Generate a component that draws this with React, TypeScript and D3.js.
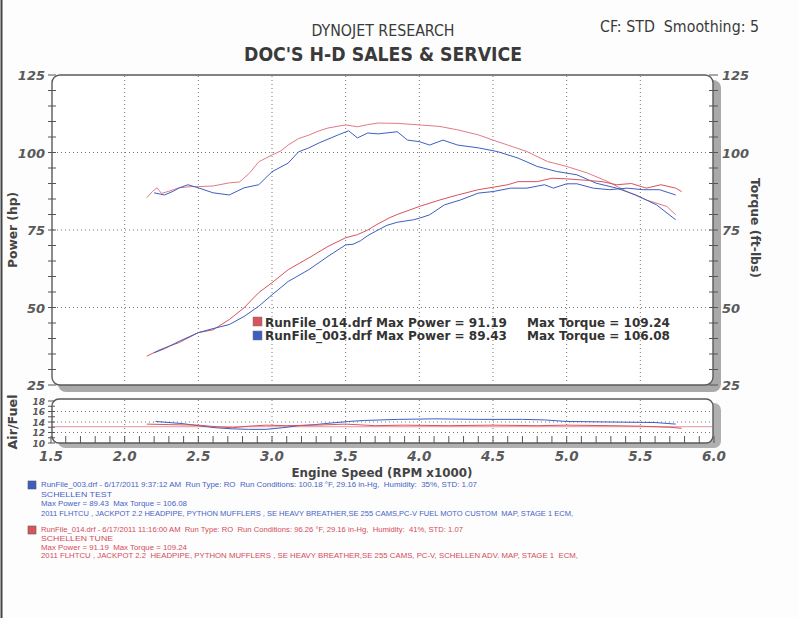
import React from "react";
import * as d3 from "d3";

// ---- data ----
const rpmTicks = [1.5, 2.0, 2.5, 3.0, 3.5, 4.0, 4.5, 5.0, 5.5, 6.0];
const mainTicks = [25, 50, 75, 100, 125];
const afrTicks = [10, 12, 14, 16, 18];

const tqRedRpm = [2.15, 2.19, 2.22, 2.25, 2.3, 2.37, 2.45, 2.5, 2.6, 2.71, 2.78, 2.85, 2.91, 3.0, 3.06, 3.11, 3.18, 3.25, 3.32, 3.38, 3.5, 3.58, 3.65, 3.72, 3.85, 4.0, 4.14, 4.26, 4.4, 4.5, 4.6, 4.73, 4.87, 5.0, 5.14, 5.28, 5.41, 5.54, 5.68, 5.74];
const tqRed = [85.4, 87.5, 88.6, 86.8, 87.5, 88.6, 89.0, 89.0, 89.2, 90.2, 90.5, 93.5, 97.0, 99.2, 100.5, 102.4, 104.5, 105.6, 107.0, 107.9, 108.9, 108.3, 109.0, 109.5, 109.4, 108.9, 108.4, 107.3, 105.7, 104.0, 102.4, 100.3, 97.1, 95.5, 93.4, 90.6, 87.4, 84.7, 82.6, 79.9];

const tqBlueRpm = [2.2, 2.27, 2.33, 2.37, 2.43, 2.5, 2.6, 2.71, 2.81, 2.91, 3.0, 3.11, 3.18, 3.25, 3.32, 3.45, 3.52, 3.58, 3.65, 3.72, 3.85, 3.92, 4.0, 4.07, 4.16, 4.26, 4.4, 4.53, 4.67, 4.8, 4.93, 5.07, 5.2, 5.34, 5.47, 5.61, 5.74];
const tqBlue = [87.0, 86.3, 87.5, 88.6, 89.6, 88.6, 87.0, 86.3, 88.6, 89.6, 93.8, 96.6, 100.2, 101.5, 103.1, 105.7, 107.0, 104.7, 106.3, 106.0, 106.7, 104.0, 103.5, 102.4, 104.0, 102.4, 101.5, 100.3, 98.2, 95.5, 93.9, 92.8, 90.1, 88.5, 86.3, 83.1, 78.3];

const hpRedRpm = [2.15, 2.24, 2.3, 2.37, 2.5, 2.6, 2.71, 2.81, 2.91, 3.0, 3.11, 3.25, 3.38, 3.5, 3.58, 3.65, 3.72, 3.8, 3.85, 4.0, 4.14, 4.26, 4.4, 4.5, 4.6, 4.67, 4.8, 4.9, 5.0, 5.14, 5.24, 5.34, 5.44, 5.54, 5.64, 5.74, 5.78];
const hpRed = [34.3, 36.4, 37.5, 38.7, 41.9, 42.8, 46.1, 49.9, 54.8, 58.0, 62.2, 66.0, 69.7, 72.5, 73.5, 75.0, 77.0, 79.0, 80.0, 82.6, 84.7, 86.3, 88.0, 88.8, 89.6, 90.6, 90.6, 91.7, 91.5, 91.0, 90.6, 89.6, 90.0, 88.5, 89.6, 88.5, 87.4];

const hpBlueRpm = [2.2, 2.27, 2.37, 2.5, 2.6, 2.71, 2.81, 2.91, 3.0, 3.11, 3.25, 3.38, 3.5, 3.55, 3.6, 3.65, 3.7, 3.78, 3.85, 3.96, 4.0, 4.07, 4.17, 4.28, 4.4, 4.5, 4.62, 4.73, 4.85, 4.91, 5.0, 5.07, 5.18, 5.29, 5.41, 5.52, 5.63, 5.74];
const hpBlue = [35.4, 36.7, 39.1, 41.9, 43.2, 44.5, 47.1, 50.4, 54.1, 58.4, 62.2, 66.5, 70.2, 70.4, 71.5, 73.2, 74.5, 76.5, 77.5, 78.3, 78.8, 79.9, 83.1, 84.7, 86.9, 87.4, 88.5, 88.5, 89.6, 88.5, 89.9, 89.9, 88.5, 88.0, 88.5, 88.0, 88.0, 86.3];

const afrBlueRpm = [2.21, 2.39, 2.5, 2.62, 2.73, 2.84, 2.96, 3.07, 3.18, 3.29, 3.4, 3.52, 3.63, 3.86, 4.1, 4.4, 4.7, 4.85, 5.0, 5.3, 5.6, 5.74];
const afrBlue = [14.1, 13.7, 13.3, 12.9, 12.7, 12.6, 12.6, 12.9, 13.3, 13.5, 13.8, 14.1, 14.3, 14.5, 14.6, 14.5, 14.5, 14.4, 14.1, 14.0, 13.9, 13.6];

const afrRedRpm = [2.15, 2.3, 2.5, 2.62, 2.73, 2.84, 2.96, 3.1, 3.3, 3.5, 3.7, 3.9, 4.2, 4.5, 4.8, 5.0, 5.3, 5.5, 5.7, 5.78];
const afrRed = [13.6, 13.5, 13.4, 13.1, 12.9, 13.2, 13.4, 13.3, 13.4, 13.6, 13.3, 13.4, 13.3, 13.4, 13.3, 13.4, 13.3, 13.2, 13.0, 12.8];
const afrTarget = 13.1;

const legendRows = [
  { file: "RunFile_014.drf", power: "91.19", torque: "109.24", color: "#d9535c" },
  { file: "RunFile_003.drf", power: "89.43", torque: "106.08", color: "#3d5fc0" },
];

const infoBlue = [
  "RunFile_003.drf - 6/17/2011 9:37:12 AM  Run Type: RO  Run Conditions: 100.18 °F, 29.16 in-Hg,  Humidity:  35%, STD: 1.07",
  "SCHELLEN TEST",
  "Max Power = 89.43  Max Torque = 106.08",
  "2011 FLHTCU , JACKPOT 2.2 HEADPIPE, PYTHON MUFFLERS , SE HEAVY BREATHER,SE 255 CAMS,PC-V FUEL MOTO CUSTOM  MAP, STAGE 1 ECM,",
];
const infoBlueW = [436, 71, 146, 532];
const infoRed = [
  "RunFile_014.drf - 6/17/2011 11:16:00 AM  Run Type: RO  Run Conditions: 96.26 °F, 29.16 in-Hg,  Humidity:  41%, STD: 1.07",
  "SCHELLEN TUNE",
  "Max Power = 91.19  Max Torque = 109.24",
  "2011 FLHTCU , JACKPOT 2.2  HEADPIPE, PYTHON MUFFLERS , SE HEAVY BREATHER,SE 255 CAMS, PC-V, SCHELLEN ADV. MAP, STAGE 1  ECM,",
];
const infoRedW = [422, 72, 146, 537];

export default function App() {
  const W = 798, H = 618;
  const L = 52, R = 713;
  const x = d3.scaleLinear().domain([1.5, 6.0]).range([51, 714]);
  const y = d3.scaleLinear().domain([25, 125]).range([385, 75]);
  const ya = d3.scaleLinear().domain([10, 18]).range([443, 401]);

  const mkLine = (sc: any) =>
    d3.line<[number, number]>().x((d) => x(d[0])).y((d) => sc(d[1]));
  const zip = (a: number[], b: number[]) => a.map((v, i) => [v, b[i]] as [number, number]);
  const lm = mkLine(y);
  const la = mkLine(ya);

  const red = "#d9535c";
  const redLight = "#e07a86";
  const blue = "#3d5fc0";
  const axisTxt = "#5a5a5a";
  const tickFont = { fontFamily: "DejaVu Sans", fontWeight: 700, fontStyle: "italic", fontSize: 13, fill: axisTxt } as any;
  const pre = { whiteSpace: "pre" } as any;

  const minor = d3.range(25, 126, 5);
  const minorX = d3.range(15, 61, 1).map((v) => v / 10);
  const afrMinor = d3.range(10, 18.01, 1);

  return (
    <svg width={W} height={H} style={{ position: "absolute", left: 0, top: 0, background: "#fff" }}>
      <rect x={0} y={0} width={W} height={H} fill="#fdfdfd" />
      <line x1={1.5} y1={0} x2={1.5} y2={H} stroke="#444" strokeWidth={2} />

      {/* titles */}
      <text x={383} y={36} textAnchor="middle" fontFamily="DejaVu Sans Condensed, DejaVu Sans" fontSize={15} fill="#3a3a3a" textLength={143} lengthAdjust="spacingAndGlyphs">DYNOJET RESEARCH</text>
      <text x={383} y={61} textAnchor="middle" fontFamily="DejaVu Sans Condensed, DejaVu Sans" fontWeight={700} fontSize={20} fill="#3a3a3a" textLength={278} lengthAdjust="spacingAndGlyphs">DOC'S H-D SALES &amp; SERVICE</text>
      <text x={600} y={32} style={pre} fontFamily="DejaVu Sans Condensed, DejaVu Sans" fontSize={15} fill="#3a3a3a" textLength={159} lengthAdjust="spacingAndGlyphs">CF: STD  Smoothing: 5</text>

      {/* main panel shadow */}
      <rect x={L + 6} y={80} width={R - L + 2} height={312} rx={8} fill="#a9a9a9" />
      <rect x={L} y={75} width={R - L} height={310} rx={8} fill="#fff" stroke="#5a5a5a" strokeWidth={1.4} />

      {/* afr panel shadow */}
      <rect x={L + 6} y={403} width={R - L + 2} height={45} rx={7} fill="#b0b0b0" />
      <rect x={L} y={399} width={R - L} height={44} rx={7} fill="#fff" stroke="#5a5a5a" strokeWidth={1.4} />

      {/* vertical grid */}
      {rpmTicks.slice(1, -1).map((t) => (
        <g key={"vg" + t}>
          <line x1={x(t)} x2={x(t)} y1={76} y2={384} stroke="#777" strokeDasharray="1,3" />
          <line x1={x(t)} x2={x(t)} y1={400} y2={442} stroke="#777" strokeDasharray="1,3" />
        </g>
      ))}
      {/* horizontal grid */}
      {mainTicks.slice(1, -1).map((t) => (
        <line key={"hg" + t} x1={L + 1} x2={R - 1} y1={y(t)} y2={y(t)} stroke="#777" strokeDasharray="1,3" />
      ))}
      {[12, 14, 16].map((t) => (
        <line key={"ag" + t} x1={L + 1} x2={R - 1} y1={ya(t)} y2={ya(t)} stroke="#777" strokeDasharray="1,3" />
      ))}

      {/* minor ticks main */}
      {minor.map((t) => (
        <g key={"mt" + t}>
          <line x1={L - 4} x2={L + 4} y1={y(t)} y2={y(t)} stroke="#555" />
          <line x1={R - 4} x2={R + 5} y1={y(t)} y2={y(t)} stroke="#555" />
        </g>
      ))}
      {afrMinor.map((t) => (
        <line key={"at" + t} x1={L - 4} x2={L + 3} y1={ya(t)} y2={ya(t)} stroke="#555" />
      ))}
      {minorX.map((t) => (
        <line key={"xt" + t} x1={x(t)} x2={x(t)} y1={443} y2={436} stroke="#555" />
      ))}

      {/* afr lines */}
      <line x1={L + 1} x2={R - 1} y1={ya(afrTarget)} y2={ya(afrTarget)} stroke={redLight} strokeWidth={1} opacity={0.8} />
      <path d={la(zip(afrBlueRpm, afrBlue)) || ""} fill="none" stroke={blue} strokeWidth={1} />
      <path d={la(zip(afrRedRpm, afrRed)) || ""} fill="none" stroke={red} strokeWidth={1} />

      {/* main curves */}
      <path d={lm(zip(tqRedRpm, tqRed)) || ""} fill="none" stroke={redLight} strokeWidth={1} />
      <path d={lm(zip(tqBlueRpm, tqBlue)) || ""} fill="none" stroke={blue} strokeWidth={1} />
      <path d={lm(zip(hpRedRpm, hpRed)) || ""} fill="none" stroke={red} strokeWidth={1} />
      <path d={lm(zip(hpBlueRpm, hpBlue)) || ""} fill="none" stroke={blue} strokeWidth={1} />

      {/* in-plot legend */}
      {legendRows.map((r, i) => (
        <g key={"lg" + i}>
          <rect x={253} y={317 + i * 14} width={9} height={9} fill={r.color} stroke="#777" strokeWidth={0.5} />
          <text x={265} y={327 + i * 13} fontFamily="DejaVu Sans" fontWeight={700} fontSize={11.5} fill="#333" textLength={242} lengthAdjust="spacingAndGlyphs">{`${r.file} Max Power = ${r.power}`}</text>
          <text x={527} y={327 + i * 13} fontFamily="DejaVu Sans" fontWeight={700} fontSize={11.5} fill="#333" textLength={143} lengthAdjust="spacingAndGlyphs">{`Max Torque = ${r.torque}`}</text>
        </g>
      ))}

      {/* axis labels */}
      {mainTicks.map((t) => (
        <g key={"ml" + t}>
          <text x={45} y={y(t) + 5} textAnchor="end" {...tickFont}>{t}</text>
          <text x={722} y={y(t) + 5} {...tickFont}>{t}</text>
        </g>
      ))}
      {afrTicks.map((t) => (
        <text key={"al" + t} x={45} y={ya(t) + 3.5} textAnchor="end" {...tickFont} fontSize={9}>{t}</text>
      ))}
      {rpmTicks.map((t) => (
        <text key={"xl" + t} x={x(t)} y={461} textAnchor="middle" {...tickFont} fontSize={13.5}>{t.toFixed(1)}</text>
      ))}
      <text x={382} y={477} textAnchor="middle" fontFamily="DejaVu Sans" fontWeight={700} fontSize={12} fill="#444" textLength={181} lengthAdjust="spacingAndGlyphs">Engine Speed (RPM x1000)</text>
      <text transform="translate(17,230) rotate(-90)" textAnchor="middle" fontFamily="DejaVu Sans" fontWeight={700} fontSize={12} fill="#444" textLength={76} lengthAdjust="spacingAndGlyphs">Power (hp)</text>
      <text transform="translate(17,422) rotate(-90)" textAnchor="middle" fontFamily="DejaVu Sans" fontWeight={700} fontSize={12} fill="#444" textLength={55} lengthAdjust="spacingAndGlyphs">Air/Fuel</text>
      <text transform="translate(751,228) rotate(90)" textAnchor="middle" fontFamily="DejaVu Sans" fontWeight={700} fontSize={12} fill="#444" textLength={100} lengthAdjust="spacingAndGlyphs">Torque (ft-lbs)</text>

      {/* info block */}
      <rect x={28} y={481} width={8} height={8} fill={blue} stroke="#556" strokeWidth={0.6} />
      {infoBlue.map((s, i) => (
        <text key={"ib" + i} x={41} y={487 + i * 9.6} style={pre} fontFamily="Liberation Sans, Arial" fontSize={8} fill="#4663c4" textLength={infoBlueW[i]} lengthAdjust="spacingAndGlyphs">{s}</text>
      ))}
      <rect x={28} y={526} width={8} height={8} fill={red} stroke="#655" strokeWidth={0.6} />
      {infoRed.map((s, i) => (
        <text key={"ir" + i} x={41} y={532 + i * 8.8} style={pre} fontFamily="Liberation Sans, Arial" fontSize={8} fill="#d44c5a" textLength={infoRedW[i]} lengthAdjust="spacingAndGlyphs">{s}</text>
      ))}
    </svg>
  );
}
